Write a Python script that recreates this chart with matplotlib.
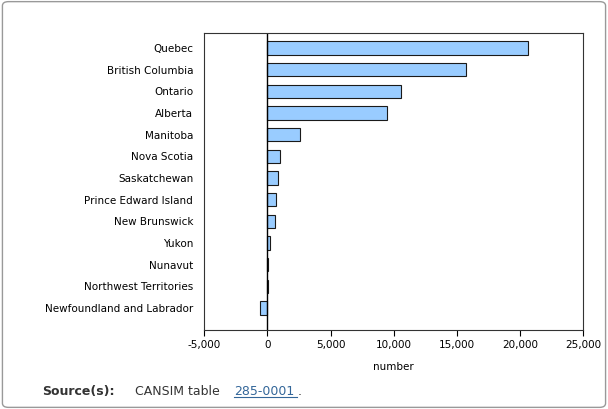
import matplotlib.pyplot as plt
from matplotlib.patches import FancyBboxPatch

provinces = ["Quebec", "British Columbia", "Ontario", "Alberta", "Manitoba",
             "Nova Scotia", "Saskatchewan", "Prince Edward Island", "New Brunswick",
             "Yukon", "Nunavut", "Northwest Territories", "Newfoundland and Labrador"]
values = [20650, 15740, 10600, 9490, 2610, 1030, 870, 710, 630, 240, 80, 20, -550]
xticks = [-5000, 0, 5000, 10000, 15000, 20000, 25000]

fig = plt.figure(figsize=(6.08, 4.09), dpi=100)
fig.patches.append(FancyBboxPatch((0.004, 0.004), 0.992, 0.992, boxstyle="round,pad=0,rounding_size=0.01",
                                  transform=fig.transFigure, fill=False, edgecolor="#999999", lw=1))
ax = fig.add_axes([0.336, 0.193, 0.623, 0.726])

y = list(range(len(provinces)))
ax.barh(y, values, height=0.62, color="#99ccff", edgecolor="#1a1a1a", linewidth=0.8)
ax.axvline(0, color="black", lw=1)
ax.set_ylim(13.02, -0.69)
ax.set_xlim(-5000, 25000)
ax.set_yticks(y)
ax.set_yticklabels(provinces, fontsize=7.5)
ax.tick_params(axis="y", length=0, pad=8)
ax.set_xticks(xticks)
ax.set_xticklabels([f"{v:,}" for v in xticks], fontsize=7.5)
ax.tick_params(axis="x", length=4, direction="out")
ax.set_xlabel("number", fontsize=7.5, labelpad=8)
for s in ax.spines.values():
    s.set_color("#333333")
    s.set_linewidth(0.8)

fig.text(0.07, 0.035, "Source(s):", fontsize=9, fontweight="bold", color="#333333")
fig.text(0.222, 0.035, "CANSIM table", fontsize=9, color="#333333")
fig.text(0.385, 0.035, "285-0001", fontsize=9, color="#336699")
fig.text(0.49, 0.035, ".", fontsize=9, color="#333333")
fig.add_artist(plt.Line2D([0.385, 0.488], [0.03, 0.03], color="#336699", lw=0.8))

fig.savefig("out.png", dpi=100)
